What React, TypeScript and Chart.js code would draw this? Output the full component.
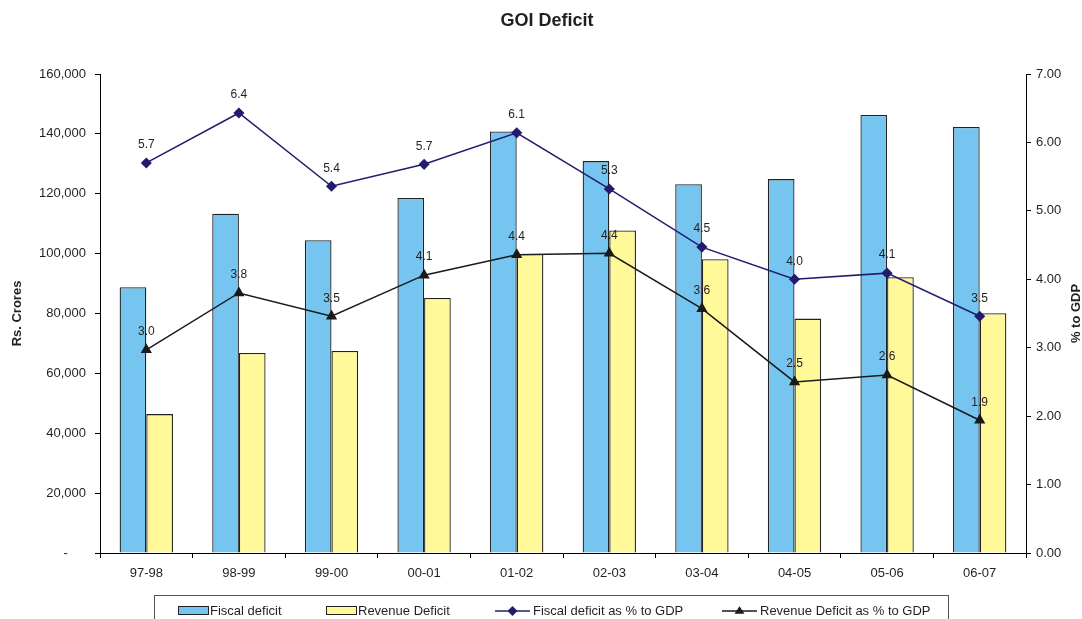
import React, { useEffect, useRef } from 'react';
import { Chart, registerables } from 'chart.js';

Chart.register(...registerables);

const title = 'GOI Deficit';
const categories = ['97-98', '98-99', '99-00', '00-01', '01-02', '02-03', '03-04', '04-05', '05-06', '06-07'];
const fiscalDeficit = [88800, 113300, 104500, 118600, 140800, 130900, 123200, 124900, 146300, 142300];
const revenueDeficit = [46400, 66800, 67500, 85200, 99900, 107700, 98100, 78300, 92100, 80100];
const fiscalPct = [5.7, 6.43, 5.36, 5.68, 6.14, 5.32, 4.47, 4.0, 4.09, 3.46];
const revenuePct = [2.97, 3.8, 3.46, 4.06, 4.36, 4.38, 3.57, 2.5, 2.6, 1.94];
const seriesNames = ['Fiscal deficit', 'Revenue Deficit', 'Fiscal deficit as % to GDP', 'Revenue Deficit as % to GDP'];
const leftAxisTitle = 'Rs. Crores';
const rightAxisTitle = '% to GDP';
const leftMax = 160000;
const leftStep = 20000;
const rightMax = 7;
const rightStep = 1;

const FONT = '"Liberation Sans", Arial, sans-serif';
const TEXT = '#231F20';
const legendItemX = [178, 326, 495, 722];

function drawMarker(ctx: CanvasRenderingContext2D, style: string, x: number, y: number, r: number, color: string) {
  ctx.save();
  ctx.fillStyle = color;
  ctx.beginPath();
  if (style === 'rectRot') {
    ctx.moveTo(x, y - r);
    ctx.lineTo(x + r, y);
    ctx.lineTo(x, y + r);
    ctx.lineTo(x - r, y);
  } else {
    const h = r * 1.5;
    ctx.moveTo(x, y - h * 0.62);
    ctx.lineTo(x + r, y + h * 0.38);
    ctx.lineTo(x - r, y + h * 0.38);
  }
  ctx.closePath();
  ctx.fill();
  ctx.restore();
}

const overlayPlugin = {
  id: 'overlay',
  afterDatasetsDraw(chart: any) {
    const ctx: CanvasRenderingContext2D = chart.ctx;
    ctx.save();
    ctx.font = `12px ${FONT}`;
    ctx.fillStyle = TEXT;
    ctx.textAlign = 'center';
    ctx.textBaseline = 'middle';
    chart.data.datasets.forEach((ds: any, i: number) => {
      if (ds.type !== 'line') return;
      const meta = chart.getDatasetMeta(i);
      meta.data.forEach((pt: any, j: number) => {
        ctx.fillText(Number(ds.data[j]).toFixed(1), pt.x, pt.y - 18);
      });
    });
    ctx.restore();
  },
  afterDraw(chart: any) {
    const ctx: CanvasRenderingContext2D = chart.ctx;
    const area = chart.chartArea;
    ctx.save();
    // title
    ctx.fillStyle = TEXT;
    ctx.font = `bold 18px ${FONT}`;
    ctx.textAlign = 'center';
    ctx.textBaseline = 'middle';
    ctx.fillText(title, 547, 21);
    // axis titles
    const midY = (area.top + area.bottom) / 2;
    ctx.font = `bold 13px ${FONT}`;
    ctx.save();
    ctx.translate(17, midY);
    ctx.rotate(-Math.PI / 2);
    ctx.fillText(leftAxisTitle, 0, 0);
    ctx.restore();
    ctx.save();
    ctx.translate(1076, midY);
    ctx.rotate(-Math.PI / 2);
    ctx.fillText(rightAxisTitle, 0, 0);
    ctx.restore();
    // legend
    ctx.strokeStyle = '#555';
    ctx.lineWidth = 1;
    ctx.strokeRect(154.5, 595.5, 794, 40);
    ctx.font = `13px ${FONT}`;
    ctx.textAlign = 'left';
    ctx.textBaseline = 'middle';
    const ly = 611;
    chart.data.datasets.forEach((ds: any, i: number) => {
      const x = legendItemX[i];
      let tx;
      if (ds.type === 'bar') {
        ctx.fillStyle = ds.backgroundColor;
        ctx.fillRect(x + 0.5, ly - 4.5, 30, 8);
        ctx.strokeStyle = '#222';
        ctx.lineWidth = 1;
        ctx.strokeRect(x + 0.5, ly - 4.5, 30, 8);
        tx = x + 32;
      } else {
        ctx.strokeStyle = ds.borderColor;
        ctx.lineWidth = 1.5;
        ctx.beginPath();
        ctx.moveTo(x, ly);
        ctx.lineTo(x + 35, ly);
        ctx.stroke();
        drawMarker(ctx, ds.pointStyle, x + 17.5, ly, 5, ds.pointBackgroundColor);
        tx = x + 38;
      }
      ctx.fillStyle = TEXT;
      ctx.fillText(ds.label, tx, ly);
    });
    ctx.restore();
  },
};

export default function App() {
  const ref = useRef<HTMLCanvasElement | null>(null);
  useEffect(() => {
    if (!ref.current) return;
    const chart = new Chart(ref.current, {
      type: 'bar',
      data: {
        labels: categories,
        datasets: [
          {
            type: 'bar',
            label: seriesNames[0],
            data: fiscalDeficit,
            backgroundColor: '#75C5F0',
            borderColor: '#222',
            borderWidth: 1.3,
            yAxisID: 'y',
            order: 2,
            categoryPercentage: 0.576,
            barPercentage: 1,
          },
          {
            type: 'bar',
            label: seriesNames[1],
            data: revenueDeficit,
            backgroundColor: '#FFF99A',
            borderColor: '#222',
            borderWidth: 1.3,
            yAxisID: 'y',
            order: 2,
            categoryPercentage: 0.576,
            barPercentage: 1,
          },
          {
            type: 'line',
            label: seriesNames[2],
            data: fiscalPct,
            borderColor: '#221C6E',
            backgroundColor: '#221C6E',
            pointBackgroundColor: '#221C6E',
            pointBorderColor: '#221C6E',
            pointStyle: 'rectRot',
            pointRadius: 4.5,
            borderWidth: 1.5,
            yAxisID: 'y1',
            order: 0,
            tension: 0,
          },
          {
            type: 'line',
            label: seriesNames[3],
            data: revenuePct,
            borderColor: '#1a1a1a',
            backgroundColor: '#1a1a1a',
            pointBackgroundColor: '#1a1a1a',
            pointBorderColor: '#1a1a1a',
            pointStyle: 'triangle',
            pointRadius: 5,
            borderWidth: 1.5,
            yAxisID: 'y1',
            order: 1,
            tension: 0,
          },
        ] as any,
      },
      options: {
        responsive: false,
        animation: false,
        layout: { padding: { top: 74, left: 0, right: 0, bottom: 0 } },
        plugins: { legend: { display: false }, title: { display: false }, tooltip: { enabled: false } },
        scales: {
          x: {
            grid: { offset: true, drawOnChartArea: false, drawTicks: true, tickLength: 5, color: '#000' },
            border: { color: '#000', width: 1 },
            ticks: { color: TEXT, font: { family: FONT, size: 13 }, padding: 8 },
            afterFit: (s: any) => { s.height = 66; },
          },
          y: {
            position: 'left',
            min: 0,
            max: leftMax,
            grid: { drawOnChartArea: false, drawTicks: true, tickLength: 5, color: '#000' },
            border: { color: '#000', width: 1 },
            ticks: {
              stepSize: leftStep,
              color: TEXT,
              font: { family: FONT, size: 13 },
              padding: 9,
              callback: (v: any) => (v === 0 ? '-     ' : Number(v).toLocaleString('en-US')),
            },
            afterFit: (s: any) => { s.width = 100; },
          },
          y1: {
            position: 'right',
            min: 0,
            max: rightMax,
            grid: { drawOnChartArea: false, drawTicks: true, tickLength: 5, color: '#000' },
            border: { color: '#000', width: 1 },
            ticks: {
              stepSize: rightStep,
              color: TEXT,
              font: { family: FONT, size: 13 },
              padding: 5,
              callback: (v: any) => Number(v).toFixed(2),
            },
            afterFit: (s: any) => { s.width = 56; },
          },
        },
      } as any,
      plugins: [overlayPlugin],
    });
    return () => chart.destroy();
  }, []);
  return (
    <div style={{ position: 'fixed', left: 0, top: 0, width: 1082, height: 619, background: '#fff' }}>
      <canvas ref={ref} width={1082} height={619} />
    </div>
  );
}
